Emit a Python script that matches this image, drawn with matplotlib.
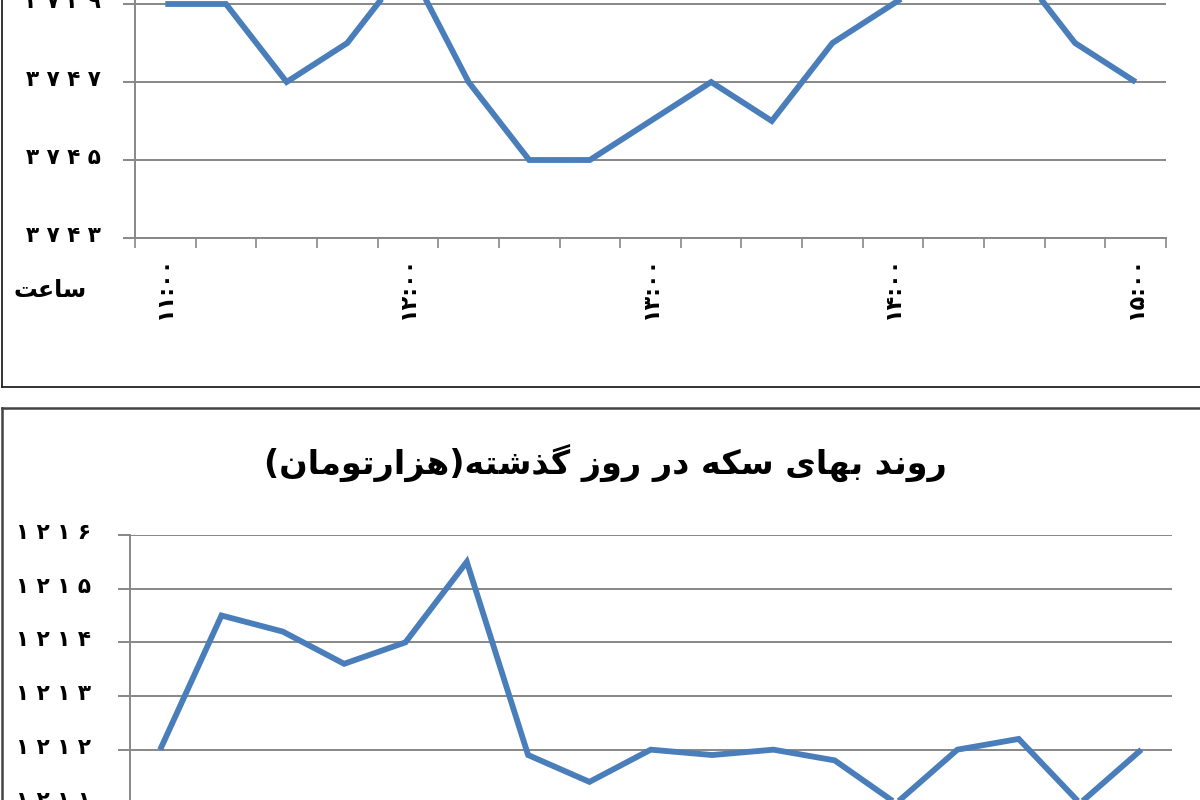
import matplotlib
matplotlib.use('Agg')
import matplotlib.pyplot as plt
import matplotlib.transforms as mtransforms
from matplotlib.font_manager import FontProperties, findfont
from matplotlib.ft2font import FT2Font
from matplotlib.lines import Line2D
import numpy as np

# ---------------- data ----------------
times = ['11:00', '11:15', '11:30', '11:45', '12:00', '12:15', '12:30', '12:45',
         '13:00', '13:15', '13:30', '13:45', '14:00', '14:15', '14:30', '14:45', '15:00']
dollar_vals = [3749, 3749, 3747, 3748, 3750, 3747, 3745, 3745, 3746,
               3747, 3746, 3748, 3749, 3750, 3750, 3748, 3747]
coin_vals = [1212.0, 1214.5, 1214.2, 1213.6, 1214.0, 1215.5, 1211.9, 1211.4, 1212.0,
             1211.9, 1212.0, 1211.8, 1211.0, 1212.0, 1212.2, 1211.0, 1212.0]
time_labels = ['۱۱:۰۰', '۱۲:۰۰', '۱۳:۰۰', '۱۴:۰۰', '۱۵:۰۰']
time_label_idx = [0, 4, 8, 12, 16]
top_yticks = [3743, 3745, 3747, 3749, 3751]
bottom_yticks = [1210, 1211, 1212, 1213, 1214, 1215, 1216]
title_bottom = 'روند بهای سکه در روز گذشته(هزارتومان)'
xlabel_top = 'ساعت'

# ---------------- font / shaping helpers ----------------
FAMILY = 'DejaVu Sans'
bold_path = findfont(FontProperties(family=FAMILY, weight='bold'))
reg_path = findfont(FontProperties(family=FAMILY))
bold_font = FT2Font(bold_path)
reg_font = FT2Font(reg_path)


def has(font, cp):
    try:
        return font.get_char_index(cp) != 0
    except Exception:
        return False


def rng(start, dual=True):
    if dual:
        return (start, start + 1, start + 2, start + 3)
    return (start, start + 1, None, None)


FORMS = {
    '\u0627': rng(0xFE8D, False), '\u0622': rng(0xFE81, False),
    '\u0628': rng(0xFE8F), '\u067E': rng(0xFB56), '\u062A': rng(0xFE95),
    '\u062B': rng(0xFE99), '\u062C': rng(0xFE9D), '\u0686': rng(0xFB7A),
    '\u062D': rng(0xFEA1), '\u062E': rng(0xFEA5),
    '\u062F': rng(0xFEA9, False), '\u0630': rng(0xFEAB, False),
    '\u0631': rng(0xFEAD, False), '\u0632': rng(0xFEAF, False),
    '\u0698': rng(0xFB8A, False),
    '\u0633': rng(0xFEB1), '\u0634': rng(0xFEB5), '\u0635': rng(0xFEB9),
    '\u0636': rng(0xFEBD), '\u0637': rng(0xFEC1), '\u0638': rng(0xFEC5),
    '\u0639': rng(0xFEC9), '\u063A': rng(0xFECD), '\u0641': rng(0xFED1),
    '\u0642': rng(0xFED5), '\u0643': rng(0xFED9), '\u06A9': rng(0xFB8E),
    '\u06AF': rng(0xFB92), '\u0644': rng(0xFEDD), '\u0645': rng(0xFEE1),
    '\u0646': rng(0xFEE5), '\u0647': rng(0xFEE9),
    '\u0648': rng(0xFEED, False), '\u064A': rng(0xFEF1),
    '\u06CC': rng(0xFBFC),
}
FALLBACK = {
    '\u06CC': (0xFEEF, 0xFEF0, 0xFEF3, 0xFEF4),
    '\u06A9': rng(0xFED9),
}


def shape(text, font):
    chars = list(text)
    out = []
    for i, c in enumerate(chars):
        if c not in FORMS:
            out.append(c)
            continue
        prev = chars[i - 1] if i > 0 else None
        nxt = chars[i + 1] if i + 1 < len(chars) else None
        dual = FORMS[c][2] is not None
        join_prev = prev in FORMS and FORMS[prev][2] is not None
        join_next = dual and (nxt in FORMS)
        if join_prev and join_next:
            k = 3
        elif join_prev:
            k = 1
        elif join_next:
            k = 2
        else:
            k = 0
        cp = FORMS[c][k]
        if not has(font, cp) and c in FALLBACK:
            cp = FALLBACK[c][k]
        out.append(chr(cp) if has(font, cp) else c)
    vis = ''.join(reversed(out))
    vis = vis.replace('(', '\0').replace(')', '(').replace('\0', ')')
    return vis


needed = set('۰۱۲۳۴۵۶۷۸۹:')
use_bold = all(has(bold_font, ord(c)) for c in needed) and has(bold_font, 0xFEB3)
WEIGHT = 'bold' if use_bold else 'normal'
FONT = bold_font if use_bold else reg_font

PERSIAN_DIGITS = str.maketrans('0123456789', '۰۱۲۳۴۵۶۷۸۹')


def fa_num(v):
    return ' '.join(str(v).translate(PERSIAN_DIGITS))


# ---------------- figure ----------------
W, H = 1200, 800
fig = plt.figure(figsize=(12, 8), dpi=100)
fig.patch.set_facecolor('white')


def fx(px):
    return px / W


def fy(py):
    return 1 - py / H


GRID = '#878787'
BLUE = '#4a7ebb'
label_shift = mtransforms.ScaledTranslation(0, 4 / 100, fig.dpi_scale_trans)


def style_axes(ax, ypad):
    ax.set_facecolor('white')
    for s in ['top', 'right']:
        ax.spines[s].set_visible(False)
    for s in ['left', 'bottom']:
        ax.spines[s].set_color(GRID)
        ax.spines[s].set_linewidth(1.4)
    ax.yaxis.grid(True, color=GRID, linewidth=1.4)
    ax.set_axisbelow(True)
    ax.tick_params(axis='y', which='major', length=8.5, width=1.4, color=GRID,
                   pad=ypad, labelsize=15.5)
    ax.tick_params(axis='x', which='major', length=7, width=1.2, color=GRID)
    ax.set_xlim(-0.5, len(times) - 0.5)
    ax.set_xticks(np.arange(-0.5, len(times), 1.0))
    ax.set_xticklabels([])
    for lab in ax.get_yticklabels():
        lab.set_fontweight(WEIGHT)
        lab.set_transform(lab.get_transform() + label_shift)


x = np.arange(len(times))

# ---- top chart (dollar), cropped at top ----
ax1 = fig.add_axes([fx(135), fy(238), (1166 - 135) / W, (238 + 74) / H])
ax1.set_ylim(top_yticks[0], top_yticks[-1])
ax1.set_yticks(top_yticks)
ax1.set_yticklabels([fa_num(v) for v in top_yticks], fontweight=WEIGHT,
                    family=FAMILY)
style_axes(ax1, 16)
ax1.plot(x, dollar_vals, color=BLUE, linewidth=4.2, solid_joinstyle='miter',
         solid_capstyle='butt', clip_on=False)
ax1.set_xticks(time_label_idx, minor=True)
ax1.set_xticklabels(time_labels, minor=True, rotation=90, fontsize=16,
                    fontweight=WEIGHT, family=FAMILY)
ax1.tick_params(axis='x', which='minor', length=0, pad=13)
fig.text(fx(50), fy(290), shape(xlabel_top, FONT), ha='center', va='center',
         fontsize=17, fontweight=WEIGHT, family=FAMILY)

# ---- bottom chart (coin), cropped at bottom ----
ax2 = fig.add_axes([fx(129.5), fy(857), (1172 - 129.5) / W, (857 - 535) / H])
ax2.set_ylim(bottom_yticks[0], bottom_yticks[-1])
ax2.set_yticks(bottom_yticks)
ax2.set_yticklabels([fa_num(v) for v in bottom_yticks], fontweight=WEIGHT,
                    family=FAMILY)
style_axes(ax2, 19.5)
ax2.plot(x, coin_vals, color=BLUE, linewidth=4.2, solid_joinstyle='miter',
         solid_capstyle='butt', clip_on=False)
fig.text(fx(605), fy(463), shape(title_bottom, FONT), ha='center', va='center',
         fontsize=24, fontweight=WEIGHT, family=FAMILY)

# ---- panel frames ----
fig.add_artist(Line2D([fx(2), fx(2)], [fy(0) + 0.01, fy(387)], transform=fig.transFigure,
                      color='#222222', linewidth=1.3))
fig.add_artist(Line2D([fx(2), 1.01], [fy(387), fy(387)], transform=fig.transFigure,
                      color='#222222', linewidth=1.3))
fig.add_artist(Line2D([fx(2), 1.01], [fy(408), fy(408)], transform=fig.transFigure,
                      color='#444444', linewidth=1.8))
fig.add_artist(Line2D([fx(2), fx(2)], [fy(408), -0.01], transform=fig.transFigure,
                      color='#444444', linewidth=1.8))

fig.savefig('out.png', dpi=100, facecolor='white')
